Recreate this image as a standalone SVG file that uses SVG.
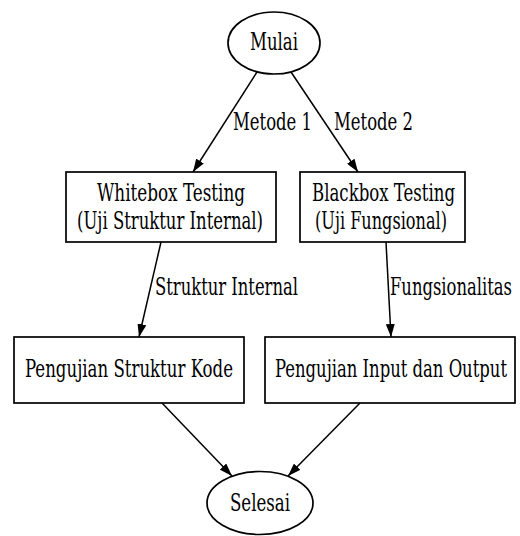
<svg xmlns="http://www.w3.org/2000/svg" width="520" height="536" viewBox="0 0 520 536">
<style>
.n{fill:#ffffff;stroke:#000000;stroke-width:1.7}
.e{fill:none;stroke:#000000;stroke-width:1.5}
text{font-family:"DejaVu Serif",serif;font-stretch:condensed;font-size:24px;fill:#000000;text-anchor:middle}
</style>
<defs>
<marker id="ah" viewBox="0 0 13 9" refX="13" refY="4.5" markerWidth="13" markerHeight="9" markerUnits="userSpaceOnUse" orient="auto">
<path d="M0,0 L13,4.5 L0,9 Z" fill="#000000"/>
</marker>
</defs>
<rect x="0" y="0" width="520" height="536" fill="#ffffff"/>
<g id="edges">
<path class="e" d="M257,72 L193,172" marker-end="url(#ah)"/>
<text transform="translate(272.5,130) scale(0.8,1)" textLength="98.75" lengthAdjust="spacingAndGlyphs">Metode 1</text>
<path class="e" d="M291,72 L358,172" marker-end="url(#ah)"/>
<text transform="translate(373.5,130) scale(0.8,1)" textLength="98.75" lengthAdjust="spacingAndGlyphs">Metode 2</text>
<path class="e" d="M161,242 L139,337" marker-end="url(#ah)"/>
<text transform="translate(226.5,295) scale(0.8,1)" textLength="178.75" lengthAdjust="spacingAndGlyphs">Struktur Internal</text>
<path class="e" d="M386,242 L391,337" marker-end="url(#ah)"/>
<text transform="translate(451,295) scale(0.8,1)" textLength="152.5" lengthAdjust="spacingAndGlyphs">Fungsionalitas</text>
<path class="e" d="M162,403 L232,476" marker-end="url(#ah)"/>
<path class="e" d="M360,403 L288,476" marker-end="url(#ah)"/>
</g>
<g id="mulai">
<ellipse class="n" cx="274" cy="43" rx="46" ry="31"/>
<text transform="translate(274,50) scale(0.8,1)" textLength="60" lengthAdjust="spacingAndGlyphs">Mulai</text>
</g>
<g id="whitebox">
<rect class="n" x="66" y="172" width="210" height="70"/>
<text transform="translate(171,201) scale(0.8,1)" textLength="185" lengthAdjust="spacingAndGlyphs">Whitebox Testing</text>
<text transform="translate(170,229) scale(0.8,1)" textLength="232.5" lengthAdjust="spacingAndGlyphs">(Uji Struktur Internal)</text>
</g>
<g id="blackbox">
<rect class="n" x="300" y="172" width="165" height="70"/>
<text transform="translate(383.5,201) scale(0.8,1)" textLength="178.75" lengthAdjust="spacingAndGlyphs">Blackbox Testing</text>
<text transform="translate(381,229) scale(0.8,1)" textLength="165" lengthAdjust="spacingAndGlyphs">(Uji Fungsional)</text>
</g>
<g id="struktur-kode">
<rect class="n" x="14" y="337" width="230" height="66"/>
<text transform="translate(129,377) scale(0.8,1)" textLength="260" lengthAdjust="spacingAndGlyphs">Pengujian Struktur Kode</text>
</g>
<g id="input-output">
<rect class="n" x="265" y="337" width="250" height="66"/>
<text transform="translate(391,377) scale(0.8,1)" textLength="290" lengthAdjust="spacingAndGlyphs">Pengujian Input dan Output</text>
</g>
<g id="selesai">
<ellipse class="n" cx="260" cy="503" rx="53" ry="31.5"/>
<text transform="translate(260,511) scale(0.8,1)" textLength="75" lengthAdjust="spacingAndGlyphs">Selesai</text>
</g>
</svg>
